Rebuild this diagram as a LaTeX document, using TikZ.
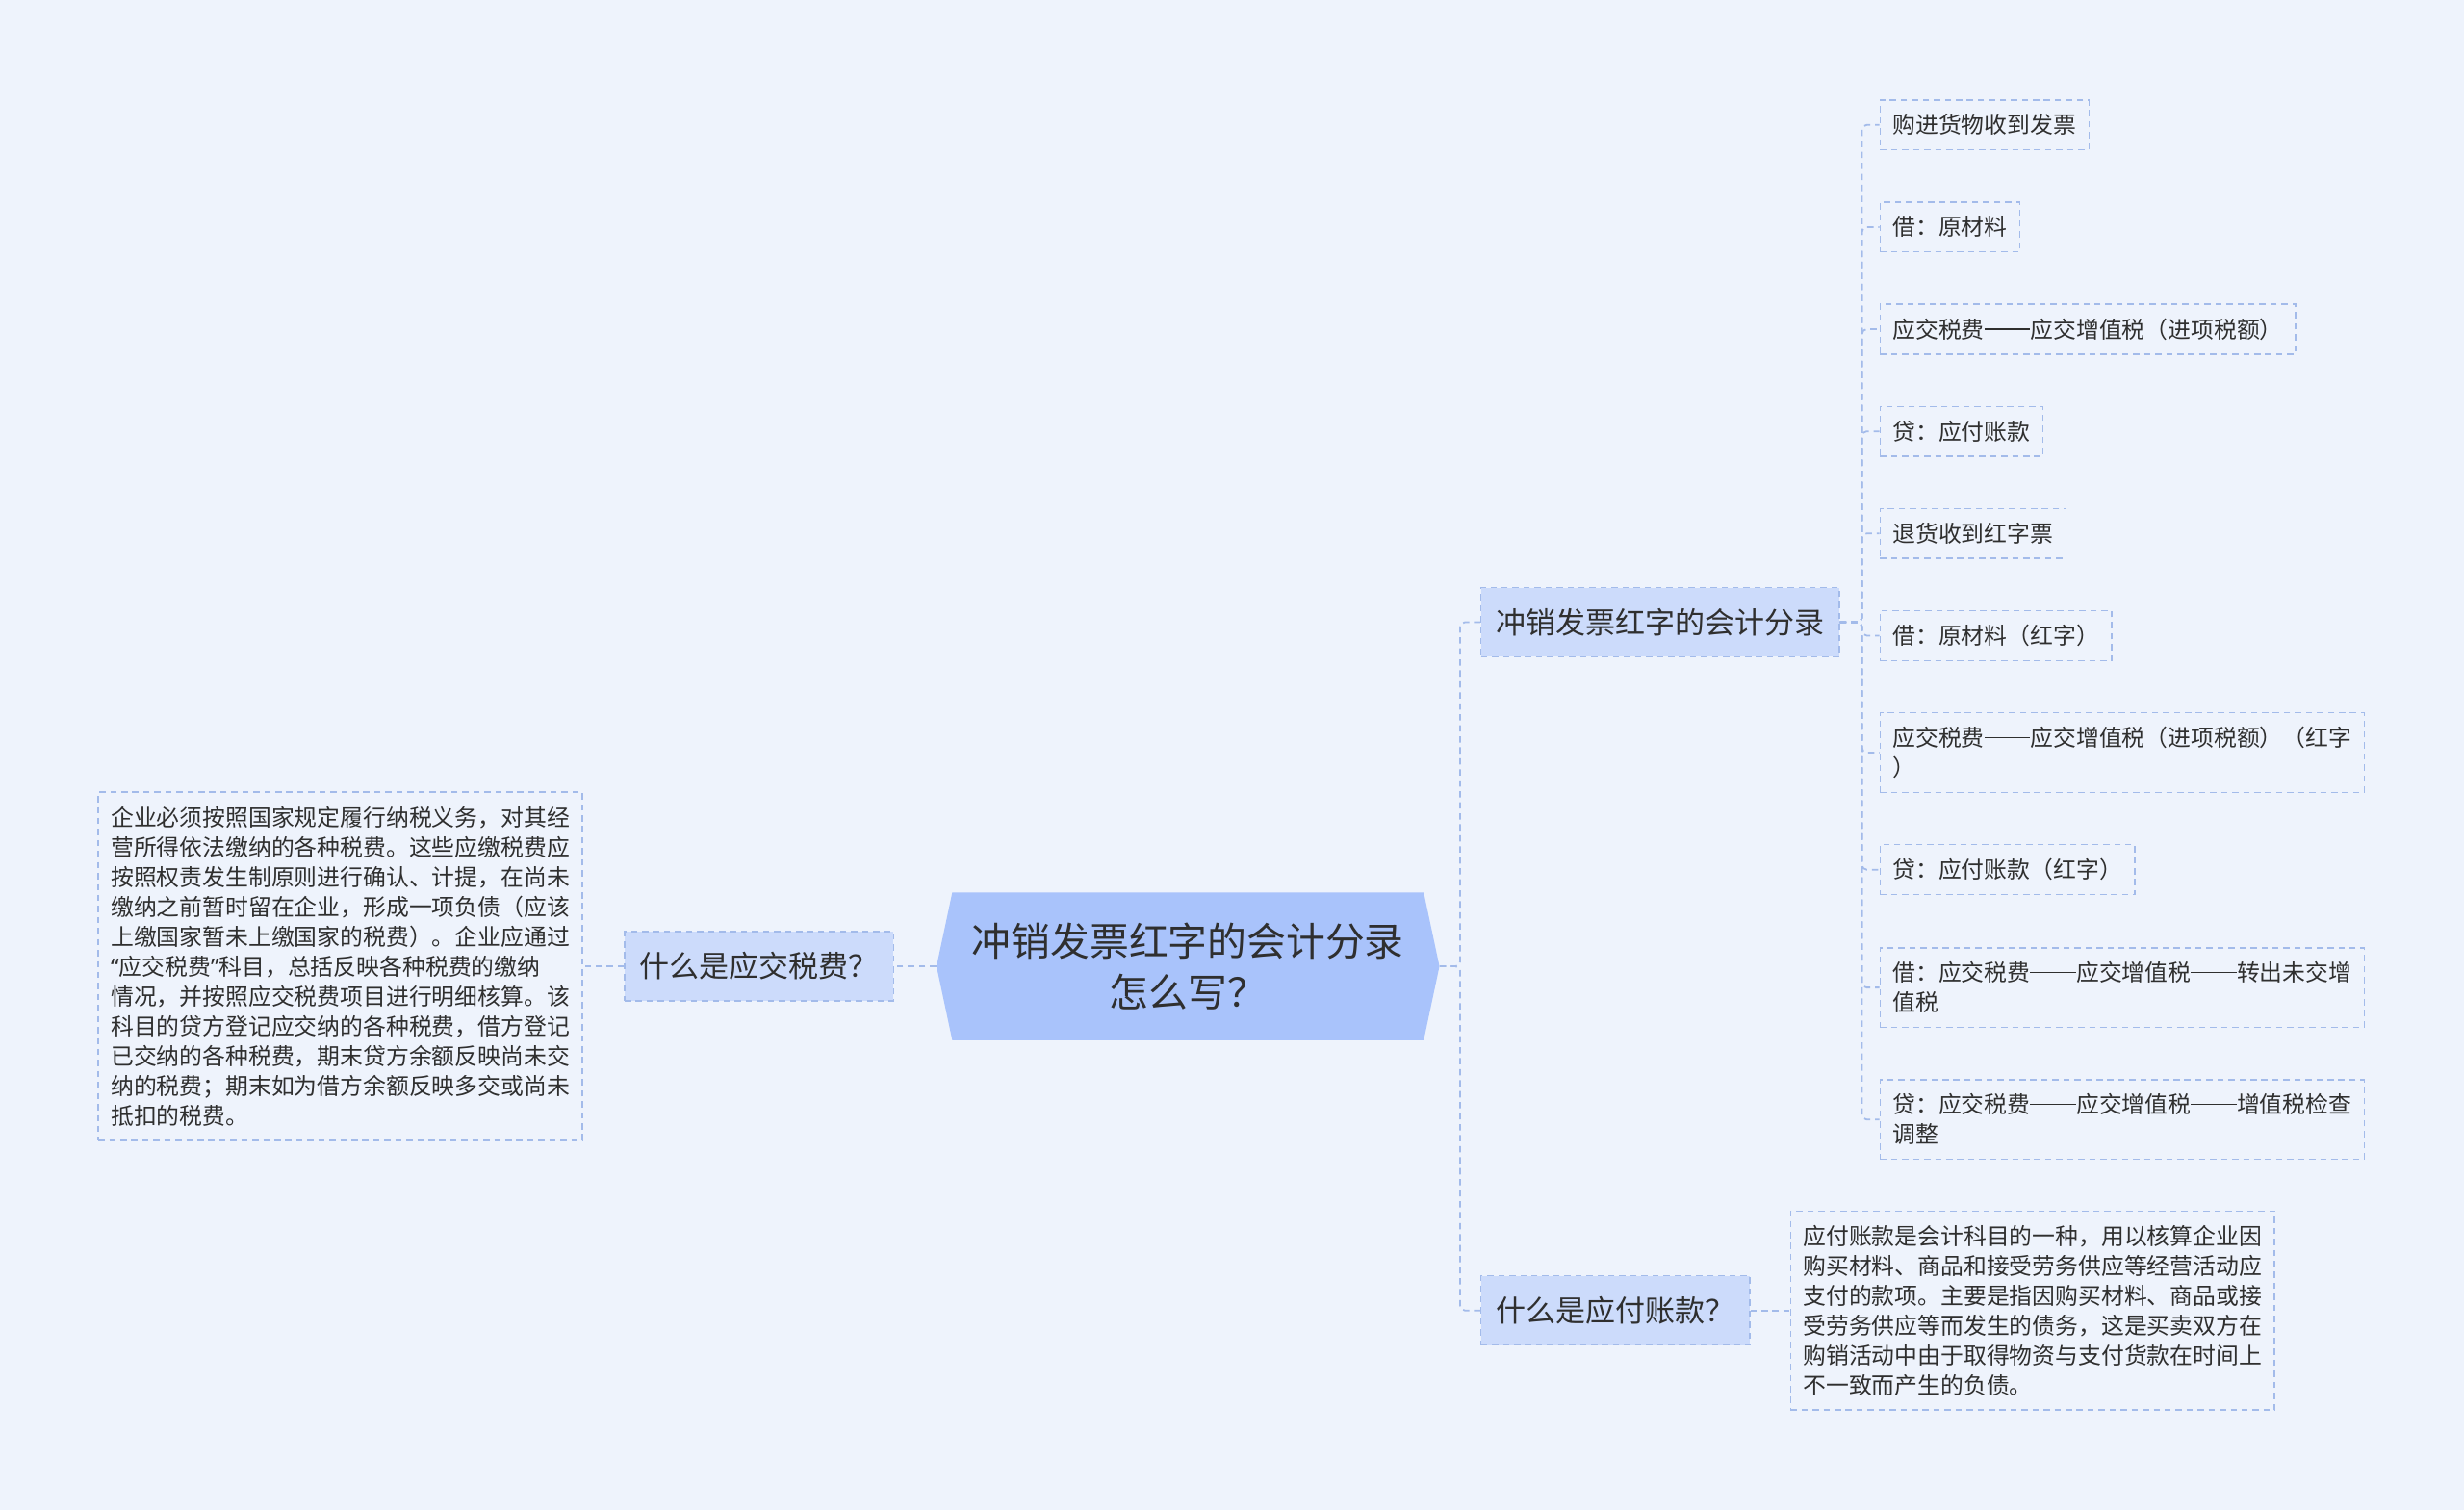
\documentclass[tikz,border=0pt]{standalone}
\usepackage{fontspec}
\setmainfont{Noto Sans CJK SC}
\newfontfamily\latinfont{Noto Sans}
\usepackage{tikz}
\usetikzlibrary{
	positioning,
	shapes.symbols
}
\usepackage{xcolor}
\definecolor{bgcol}{HTML}{EEF3FC}
\definecolor{rootcol}{HTML}{A9C3FB}
\definecolor{branchcol}{HTML}{CCDBFB}
\definecolor{linecol}{HTML}{A3BBEA}
\definecolor{txtcol}{HTML}{2F2F2F}
\newcommand{\dd}{\rule[0.36em]{2em}{0.06em}}
\newcommand{\oq}{{\latinfont “}}
\newcommand{\cq}{{\latinfont ”}}

\begin{document}
\begin{tikzpicture}[
		x=1pt,y=-1pt,
		root/.style={
			shape=signal,
			signal to=west and east,
			signal pointer angle=156,
			fill=rootcol,
			text=txtcol,
			align=center,
			minimum width=320pt,
			minimum height=94pt,
			inner sep=0pt,
			font=\fontsize{25}{33}\selectfont
		},
		branch/.style={
			draw=linecol,
			dashed,
			dash pattern=on 4pt off 3pt,
			line width=0.9pt,
			fill=branchcol,
			text=txtcol,
			minimum height=44pt,
			inner xsep=9.5pt,
			font=\fontsize{19}{24}\selectfont
		},
		leaf/.style={
			draw=linecol,
			dash pattern=on 4pt off 3pt,
			line width=0.9pt,
			text=txtcol,
			align=left,
			inner xsep=8pt,
			inner ysep=9pt,
			font=\fontsize{14.6}{19}\selectfont
		},
		link/.style={
			draw=linecol,
			dash pattern=on 4pt off 3pt,
			line width=1.1pt,
			rounded corners=3pt
		}
		]
		
		% Background
		\fill[bgcol] (0,0) rectangle (1568,961);
		\useasboundingbox (0,0) rectangle (1568,961);
		
		% Root
		\node[root] (root) at (756,615) {冲销发票红字的会计分录\\怎么写？};
		
		% Left side
		\node[branch, anchor=east] (tax) at (569,615) {什么是应交税费？};
		\node[leaf, anchor=east] (taxtext) at (371,615) {企业必须按照国家规定履行纳税义务，对其经\\营所得依法缴纳的各种税费。这些应缴税费应\\按照权责发生制原则进行确认、计提，在尚未\\缴纳之前暂时留在企业，形成一项负债（应该\\上缴国家暂未上缴国家的税费）。企业应通过\\\oq 应交税费\cq 科目，总括反映各种税费的缴纳\\情况，并按照应交税费项目进行明细核算。该\\科目的贷方登记应交纳的各种税费，借方登记\\已交纳的各种税费，期末贷方余额反映尚未交\\纳的税费；期末如为借方余额反映多交或尚未\\抵扣的税费。};
		
		\draw[link] (root.west) -- (tax.east);
		\draw[link] (tax.west) -- (taxtext.east);
		
		% Right side
		\node[branch, anchor=west] (entry) at (942,396) {冲销发票红字的会计分录};
		\node[branch, anchor=west] (payable) at (942,834) {什么是应付账款？};
		\node[leaf, anchor=west] (paytext) at (1139,834) {应付账款是会计科目的一种，用以核算企业因\\购买材料、商品和接受劳务供应等经营活动应\\支付的款项。主要是指因购买材料、商品或接\\受劳务供应等而发生的债务，这是买卖双方在\\购销活动中由于取得物资与支付货款在时间上\\不一致而产生的负债。};
		
		\draw[link] (root.east) -- ++(13,0) |- (entry.west);
		\draw[link] (root.east) -- ++(13,0) |- (payable.west);
		\draw[link] (payable.east) -- (paytext.west);
		
		% Entries
		\foreach \n/\y/\t in {
			e1/79.5/{购进货物收到发票},
			e2/144.5/{借：原材料},
			e3/209.5/{应交税费\dd 应交增值税（进项税额）},
			e4/274.5/{贷：应付账款},
			e5/339.5/{退货收到红字票},
			e6/404.5/{借：原材料（红字）},
			e7/479/{应交税费\dd 应交增值税（进项税额）（红字\\）},
			e8/553.5/{贷：应付账款（红字）},
			e9/628.5/{借：应交税费\dd 应交增值税\dd 转出未交增\\值税},
			e10/712.5/{贷：应交税费\dd 应交增值税\dd 增值税检查\\调整}}
		\node[leaf, anchor=west] (\n) at (1196,\y) {\t};
		
		\foreach \n in {e1,e2,e3,e4,e5,e6,e7,e8,e9,e10}
		\draw[link] (entry.east) -- ++(14,0) |- (\n.west);
		
	\end{tikzpicture}
\end{document}
